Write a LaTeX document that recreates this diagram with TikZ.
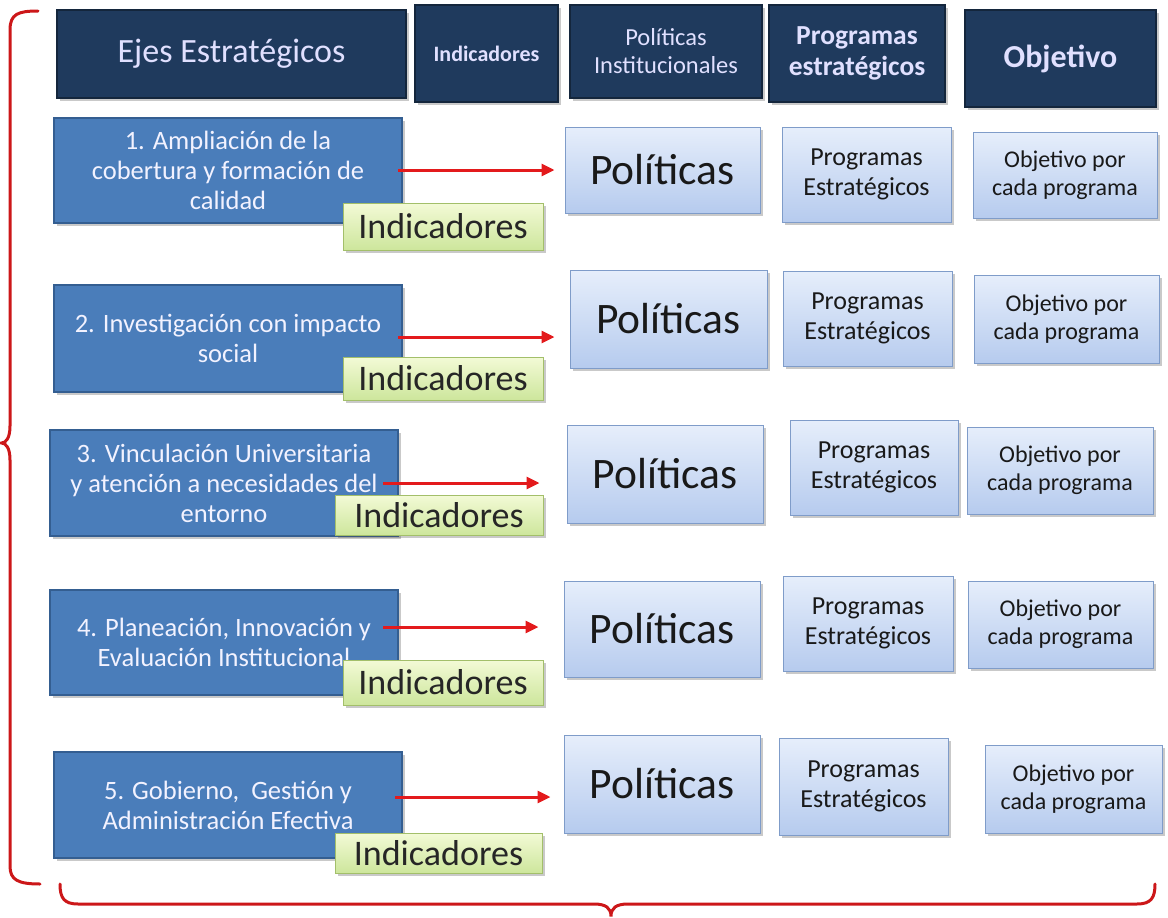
\documentclass[tikz,border=0pt]{standalone}
\usepackage{fontspec}
\setmainfont{Carlito}
\usetikzlibrary{arrows.meta,shadows}
\definecolor{navyhead}{HTML}{1F3A5D}
\definecolor{navyedge}{HTML}{14263C}
\definecolor{ejeblue}{HTML}{4A7DBA}
\definecolor{ejeedge}{HTML}{345E91}
\definecolor{poltop}{HTML}{E6EEFB}
\definecolor{polbot}{HTML}{B6CBEE}
\definecolor{poledge}{HTML}{7F9CC9}
\definecolor{indtop}{HTML}{F3FAD6}
\definecolor{indbot}{HTML}{CDE69C}
\definecolor{indedge}{HTML}{A3BF6A}
\definecolor{vred}{HTML}{E31A1C}
\definecolor{bracered}{HTML}{CC1719}

\tikzset{
  sombra/.style={drop shadow={shadow xshift=3pt,shadow yshift=-3pt,opacity=0.3,fill=black!70}},
  encab/.style={draw=navyedge,line width=1.5pt,fill=navyhead,text=white!88!blue,align=center,sombra,inner sep=2pt},
  ejebox/.style={draw=ejeedge,line width=1.2pt,fill=ejeblue,text=white!95!blue,align=center,sombra,
    minimum width=348pt,font=\fontsize{26.5}{30}\selectfont},
  indbox/.style={draw=indedge,line width=1pt,top color=indtop,bottom color=indbot,sombra,
    text=black!85,font=\fontsize{36}{38}\selectfont,inner sep=0pt},
  polbox/.style={draw=poledge,line width=1pt,top color=poltop,bottom color=polbot,sombra,
    text=black!90,align=center,inner sep=2pt},
  flecha/.style={draw=vred,line width=3pt,-{Triangle[length=13pt,width=12pt]}},
  llave/.style={draw=bracered,line width=3pt,line cap=round}
}

\begin{document}
\begin{tikzpicture}[x=1pt,y=-1pt]
  \useasboundingbox (0,0) rectangle (1168,918);
  % encabezados
  \node[encab,minimum width=349pt,minimum height=88pt,font=\fontsize{34}{36}\selectfont] (h1) at (231.5,54) {Ejes Estratégicos};
  \node[encab,minimum width=143pt,minimum height=97pt,font=\fontsize{22}{24}\selectfont\bfseries] (h2) at (486.5,53.5) {Indicadores};
  \node[encab,minimum width=192pt,minimum height=93pt,font=\fontsize{24.5}{28}\selectfont] (h3) at (666,51.5) {Políticas\\Institucionales};
  \node[encab,minimum width=176pt,minimum height=97pt,font=\fontsize{27.5}{31}\selectfont\bfseries] (h4) at (857,53.5) {Programas\\estratégicos};
  \node[encab,minimum width=191pt,minimum height=97pt,font=\fontsize{32}{34}\selectfont\bfseries] (h5) at (1060.5,58.5) {Objetivo};

  % fila 1
  \node[ejebox,minimum height=105pt] (e1) at (228,170.5) {1. Ampliación de la\\cobertura y formación de\\calidad};
  \node[polbox,minimum width=195pt,minimum height=86pt,font=\fontsize{43.5}{46}\selectfont] (p1) at (662.5,170) {Políticas};
  \node[polbox,minimum width=169pt,minimum height=95pt,font=\fontsize{26}{30}\selectfont] (r1) at (866.5,174.5) {Programas\\Estratégicos};
  \node[polbox,minimum width=184pt,minimum height=86pt,font=\fontsize{24}{28}\selectfont] (o1) at (1065,175) {Objetivo por\\cada programa};
  \coordinate (a1) at (398,170);
  \draw[flecha,shorten >=10pt] (a1) -- (a1 -| p1.west);
  \node[indbox,minimum width=200pt,minimum height=47pt] (g1) at (443,226.5) {Indicadores};

  % fila 2
  \node[ejebox,minimum height=107pt] (e2) at (228,338.5) {2. Investigación con impacto\\social};
  \node[polbox,minimum width=197pt,minimum height=98pt,font=\fontsize{43.5}{46}\selectfont] (p2) at (668.5,319) {Políticas};
  \node[polbox,minimum width=169pt,minimum height=95pt,font=\fontsize{26}{30}\selectfont] (r2) at (867.5,318.5) {Programas\\Estratégicos};
  \node[polbox,minimum width=185pt,minimum height=88pt,font=\fontsize{24}{28}\selectfont] (o2) at (1066.5,319) {Objetivo por\\cada programa};
  \coordinate (a2) at (398,337);
  \draw[flecha,shorten >=15pt] (a2) -- (a2 -| p2.west);
  \node[indbox,minimum width=200pt,minimum height=43pt] (g2) at (443,378.5) {Indicadores};

  % fila 3
  \node[ejebox,minimum height=106pt] (e3) at (224,483) {3. Vinculación Universitaria\\y atención a necesidades del\\entorno};
  \node[polbox,minimum width=196pt,minimum height=98pt,font=\fontsize{43.5}{46}\selectfont] (p3) at (665,474) {Políticas};
  \node[polbox,minimum width=168pt,minimum height=95pt,font=\fontsize{26}{30}\selectfont] (r3) at (874,467.5) {Programas\\Estratégicos};
  \node[polbox,minimum width=186pt,minimum height=87pt,font=\fontsize{24}{28}\selectfont] (o3) at (1060,470.5) {Objetivo por\\cada programa};
  \coordinate (a3) at (383,483);
  \draw[flecha,shorten >=27pt] (a3) -- (a3 -| p3.west);
  \node[indbox,minimum width=208pt,minimum height=40pt] (g3) at (439,515) {Indicadores};

  % fila 4
  \node[ejebox,minimum height=105pt] (e4) at (224,642.5) {4. Planeación, Innovación y\\Evaluación Institucional};
  \node[polbox,minimum width=196pt,minimum height=96pt,font=\fontsize{43.5}{46}\selectfont] (p4) at (662,629) {Políticas};
  \node[polbox,minimum width=170pt,minimum height=95pt,font=\fontsize{26}{30}\selectfont] (r4) at (868,623.5) {Programas\\Estratégicos};
  \node[polbox,minimum width=185pt,minimum height=87pt,font=\fontsize{24}{28}\selectfont] (o4) at (1060.5,624.5) {Objetivo por\\cada programa};
  \coordinate (a4) at (383,627);
  \draw[flecha,shorten >=25pt] (a4) -- (a4 -| p4.west);
  \node[indbox,minimum width=200pt,minimum height=45pt] (g4) at (443,682.5) {Indicadores};

  % fila 5
  \node[ejebox,minimum height=106pt] (e5) at (228,805) {5. Gobierno,~ Gestión y\\Administración Efectiva};
  \node[polbox,minimum width=196pt,minimum height=98pt,font=\fontsize{43.5}{46}\selectfont] (p5) at (662,784) {Políticas};
  \node[polbox,minimum width=169pt,minimum height=97pt,font=\fontsize{26}{30}\selectfont] (r5) at (863.5,786.5) {Programas\\Estratégicos};
  \node[polbox,minimum width=177pt,minimum height=88pt,font=\fontsize{24}{28}\selectfont] (o5) at (1073.5,789) {Objetivo por\\cada programa};
  \coordinate (a5) at (395,797);
  \draw[flecha,shorten >=13pt] (a5) -- (a5 -| p5.west);
  \node[indbox,minimum width=207pt,minimum height=40pt] (g5) at (438.5,853) {Indicadores};

  % llaves
  \draw[llave] (38,11) .. controls (18,11) and (10,14) .. (10,30) -- (10,426)
    .. controls (10,438) and (6,443) .. (1.5,443) .. controls (6,443) and (10,448) .. (10,460)
    -- (10,866) .. controls (10,880) and (18,884) .. (40,884);
  \draw[llave] (60,884) .. controls (60,898) and (64,904) .. (78,904) -- (594,904)
    .. controls (606,904) and (611,908) .. (611,916.5) .. controls (611,908) and (616,904) .. (628,904)
    -- (1137,904) .. controls (1151,904) and (1155,898) .. (1155,884);
\end{tikzpicture}
\end{document}
